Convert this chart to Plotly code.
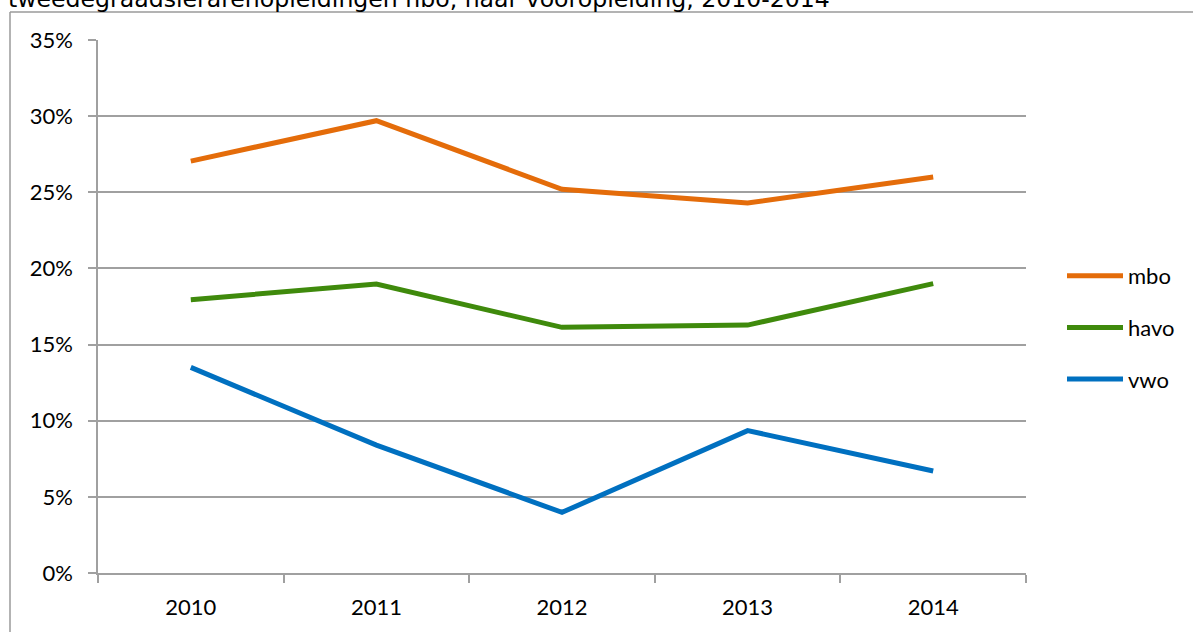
import plotly.graph_objects as go

years = ["2010", "2011", "2012", "2013", "2014"]
mbo = [0.2705, 0.297, 0.252, 0.243, 0.260]
havo = [0.1795, 0.1897, 0.1613, 0.1628, 0.190]
vwo = [0.135, 0.084, 0.0398, 0.0935, 0.067]
series_names = ["mbo", "havo", "vwo"]
series_values = [mbo, havo, vwo]
series_colors = ["#E46C0A", "#3F8A0C", "#0070C0"]
title_text = "tweedegraadslerarenopleidingen hbo, naar vooropleiding, 2010-2014"

W, H = 1193, 632
L, R, T, B = 98, 167, 40, 59
PW, PH = W - L - R, H - T - B

def px(x):
    return (x - L) / PW

def py(y):
    return (H - B - y) / PH

FONT = "Lato, Carlito, Calibri, sans-serif"

fig = go.Figure()
for name, vals, col in zip(series_names, series_values, series_colors):
    fig.add_trace(go.Scatter(
        x=years, y=vals, name=name, mode="lines",
        line=dict(color=col, width=5),
        legendgroup=name,
    ))

fig.update_layout(
    width=W, height=H,
    margin=dict(l=L, r=R, t=T, b=B, autoexpand=False),
    paper_bgcolor="white", plot_bgcolor="white",
    font=dict(family=FONT, size=22, color="#000000"),
    showlegend=True,
    legend=dict(
        x=px(1062), y=py(255), xanchor="left", yanchor="top",
        font=dict(family=FONT, size=22, color="#000000"),
        traceorder="grouped", tracegroupgap=20, itemwidth=56,
        bgcolor="rgba(0,0,0,0)",
    ),
    xaxis=dict(
        type="category", range=[-0.5, len(years) - 0.5],
        showgrid=False, showline=True,
        linecolor="#A0A0A0", linewidth=1.5,
        ticks="outside", tickson="boundaries", ticklen=8,
        tickcolor="#A0A0A0", tickwidth=1.5,
        ticklabelstandoff=14, zeroline=False,
        fixedrange=True,
    ),
    yaxis=dict(
        range=[0, 0.35], dtick=0.05, tickformat=".0%",
        showgrid=True, gridcolor="#A0A0A0", gridwidth=1.5,
        showline=True, linecolor="#A0A0A0", linewidth=1.5,
        ticks="outside", ticklen=8, tickcolor="#A0A0A0", tickwidth=1.5,
        ticklabelstandoff=11, zeroline=False, fixedrange=True,
    ),
    shapes=[
        dict(type="line", xref="paper", yref="paper",
             x0=px(10), x1=px(W + 5), y0=py(12), y1=py(12),
             line=dict(color="#9A9A9A", width=1.5)),
        dict(type="line", xref="paper", yref="paper",
             x0=px(10), x1=px(10), y0=py(12), y1=py(H + 5),
             line=dict(color="#9A9A9A", width=1.5)),
    ],
    annotations=[
        dict(text=title_text, xref="paper", yref="paper",
             x=px(6), y=py(15), xanchor="left", yanchor="bottom",
             showarrow=False,
             font=dict(family="DejaVu Sans, Verdana, sans-serif", size=23.6, color="#000000")),
    ],
)

fig.write_html(
    "out.html",
    config={"displayModeBar": False},
    post_script="document.body.style.margin='0';document.body.style.overflow='hidden';",
)
